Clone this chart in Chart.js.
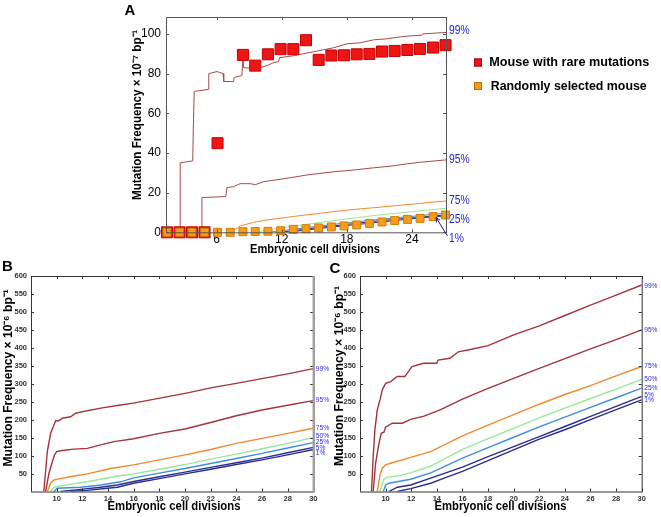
<!DOCTYPE html>
<html><head><meta charset="utf-8">
<script src="https://cdn.jsdelivr.net/npm/chart.js@4"></script>
<style>
html,body{margin:0;padding:0;background:#fff;}
#wrap{position:relative;width:661px;height:517px;overflow:hidden;}
canvas{position:absolute;left:0;top:0;}
</style></head><body>
<div id="wrap">
<canvas id="cA" width="661" height="517"></canvas>
<canvas id="cB" width="661" height="517"></canvas>
<canvas id="cC" width="661" height="517"></canvas>
</div>
<script>
// ---------- Panel A data ----------
const aDivisions = [1.43, 2.59, 3.73, 4.89, 6.09, 7.26, 8.43, 9.56, 10.73, 11.9, 13.07, 14.24, 15.41, 16.58, 17.75, 18.91, 20.08, 21.25, 22.41, 23.58, 24.75, 25.95, 27.1];
const aRare = [0, 0, 0, 0, 44.9, null, 89.4, 84.0, 89.7, 92.3, 92.3, 96.8, 86.9, 89.1, 89.2, 89.7, 89.9, 91.1, 91.4, 91.9, 92.4, 93.1, 94.3];
const aRandom = [0, 0, 0, 0, 0, 0, 0.3, 0.4, 0.5, 0.8, 1.5, 1.8, 2.2, 2.7, 3.2, 3.7, 4.5, 5.2, 5.9, 6.5, 7.0, 7.9, 8.7];
const a99x = [1.34, 2.65, 2.65, 3.8, 3.86, 3.94, 5.24, 5.28, 6.04, 6.6, 6.66, 7.57, 7.62, 8.34, 8.43, 8.49, 9.41, 10.03, 10.64, 11.25, 11.71, 11.8, 13.1, 14.02, 14.94, 15.86, 16.78, 18.02, 19.24, 20.47, 21.7, 22.93, 23.85, 24.9, 25.0, 27.14];
const a99y = [0, 0, 35, 36, 53, 71, 72, 80, 81, 80, 76, 76, 78, 79, 89, 83, 82.5, 83, 84, 85.5, 86, 88, 89, 90, 91, 92, 93, 95, 95.5, 97, 97.5, 98.5, 99, 99.3, 100, 100.7];
const a95x = [1.34, 4.65, 4.65, 6.85, 6.95, 7.57, 8.18, 9.1, 9.57, 10.33, 11.57, 12.8, 14.33, 15.25, 16.78, 18.63, 20.47, 22.3, 23.55, 24.77, 27.14];
const a95y = [0, 0, 17.5, 18, 22.5, 23, 24.5, 24.5, 24, 25.5, 26.5, 27.5, 28.9, 29.5, 30.5, 31.4, 32.5, 33.5, 34.5, 35.3, 36.5];
const a75x = [7.26, 8.18, 9.41, 10.64, 13.1, 15.55, 18.02, 20.47, 22.93, 24.77, 27.14];
const a75y = [0, 3.2, 5, 6.2, 8, 9.6, 11.2, 12.4, 13.6, 14.6, 15.8];
const a50x = [9.41, 11.87, 14.94, 18.02, 21.09, 24.16, 27.14];
const a50y = [0, 2.2, 4.5, 6.8, 8.8, 10.5, 12.1];
const a25x = [10.64, 13.1, 15.55, 18.02, 20.47, 22.93, 24.77, 27.14];
const a25y = [0, 1.5, 3.2, 4.8, 6.2, 7.5, 8.4, 9.7];
const a5x = [11.87, 15.55, 18.02, 20.47, 22.93, 24.77, 27.14];
const a5y = [0, 2.5, 4, 5.5, 6.8, 7.6, 8.8];
const a1x = [12.5, 15.55, 18.02, 20.47, 22.93, 24.77, 27.14];
const a1y = [0, 2.0, 3.4, 4.8, 6.2, 7.2, 8.3];
const aXTicks = [6, 12, 18, 24];
const aYTicks = [0, 20, 40, 60, 80, 100];
const aLabelNames = ['99%', '95%', '75%', '25%', '1%'];
const aLabelY = [101.5, 36.5, 15.8, 6.6, -3.0];
const legendNames = ['Mouse with rare mutations', 'Randomly selected mouse'];

// ---------- Panel B data ----------
const b99x = [9.0, 9.27, 9.53, 9.79, 9.92, 10.18, 10.44, 11.09, 11.48, 12.39, 13.43, 14.99, 15.97, 18.05, 20.1, 22.2, 24.0, 26.1, 28.2, 30];
const b99y = [0, 111, 162, 185, 197, 197, 204, 208, 218, 225, 232, 241, 246, 260, 274, 290, 301, 315, 329, 342];
const b95x = [9.14, 9.4, 9.66, 9.84, 10.0, 10.44, 11.35, 12.39, 13.43, 14.47, 16, 18, 20, 22, 24, 26, 28, 30];
const b95y = [0, 51, 83, 102, 111, 114, 118, 120, 130, 139, 147, 162, 174, 192, 211, 227, 240, 253];
const b75x = [9.27, 9.53, 9.79, 10.18, 11.35, 12.39, 14.2, 16, 18, 20, 22, 24, 26, 28, 30];
const b75y = [0, 23, 32, 35, 43, 49, 64, 74, 88, 102, 117, 134, 148, 162, 176];
const b50x = [9.53, 9.79, 10.18, 12.39, 14.73, 16, 18, 20, 22, 24, 26, 28, 30];
const b50y = [0, 12, 15, 27, 43, 49, 62, 75, 90, 104, 119, 134, 150];
const b25x = [9.79, 10.05, 11.87, 13.43, 14.99, 16, 18, 20, 22, 24, 26, 28, 30];
const b25y = [0, 9, 12, 18, 27, 38, 51, 64, 78, 92, 106, 121, 136];
const b5x = [10.31, 11.87, 13.43, 14.73, 16, 18, 20, 22, 24, 26, 28, 30];
const b5y = [0, 6, 12, 18, 28, 41, 54, 67, 80, 93, 108, 123];
const b1x = [11.09, 12.39, 13.95, 14.73, 16, 18, 20, 22, 24, 26, 28, 30];
const b1y = [0, 3, 9, 12, 23, 36, 49, 62, 75, 88, 102, 117];
const bLabelY = [342, 255, 178, 155, 138, 121, 107];

// ---------- Panel C data ----------
const c99x = [8.9, 9.03, 9.16, 9.35, 9.56, 9.74, 10.0, 10.4, 10.9, 11.5, 12.06, 12.97, 14.0, 14.1, 15.03, 15.68, 16.7, 18, 20, 22, 24, 26, 28, 30];
const c99y = [0, 97, 171, 227, 255, 283, 301, 306, 320, 320, 348, 357, 357, 366, 371, 389, 396, 406, 436, 461, 490, 519, 547, 575];
const c95x = [9.03, 9.22, 9.48, 9.66, 9.87, 10.0, 10.52, 11.3, 11.96, 13.0, 14.3, 16, 18, 20, 22, 24, 26, 28, 30];
const c95y = [0, 79, 134, 162, 165, 179, 190, 190, 201, 210, 228, 257, 287, 315, 343, 370, 397, 423, 450];
const c75x = [9.35, 9.56, 9.74, 10.0, 10.52, 11.96, 13.52, 16, 18, 20, 22, 24, 26, 28, 30];
const c75y = [0, 46, 65, 74, 80, 95, 111, 155, 185, 214, 243, 270, 295, 322, 348];
const c50x = [9.56, 9.82, 10.13, 10.91, 11.96, 13.52, 16, 18, 20, 22, 24, 26, 28, 30];
const c50y = [0, 32, 40, 43, 52, 71, 117, 147, 176, 205, 232, 259, 285, 312];
const c25x = [9.82, 10.0, 10.26, 11.96, 13.52, 16, 18, 20, 22, 24, 26, 28, 30];
const c25y = [0, 18, 23, 34, 52, 93, 122, 151, 180, 207, 234, 261, 288];
const c5x = [10.26, 10.91, 11.96, 13.52, 16, 18, 20, 22, 24, 26, 28, 30];
const c5y = [0, 12, 18, 37, 68, 97, 125, 153, 181, 209, 237, 265];
const c1x = [10.91, 11.96, 13.52, 14.57, 16, 18, 20, 22, 24, 26, 28, 30];
const c1y = [0, 8, 23, 37, 56, 86, 116, 146, 172, 200, 228, 255];
const cLabelY = [573, 450, 348, 313, 287, 269, 255];

const bcXTicks = [10, 12, 14, 16, 18, 20, 22, 24, 26, 28, 30];
const bcYTicks = [50, 100, 150, 200, 250, 300, 350, 400, 450, 500, 550, 600];
const pctNames = ['99%', '95%', '75%', '50%', '25%', '5%', '1%'];
const pctColors = ['#a3343c', '#a3343c', '#f08a2c', '#98e898', '#3c8fdf', '#2c2c90', '#2c2c90'];

// ---------- helpers ----------
const NARROW = "'Liberation Sans Narrow', 'Liberation Sans', Arial, sans-serif";
const SANS = "'Liberation Sans', Arial, sans-serif";
function pts(xs, ys) { return xs.map((x, i) => ({x: x, y: ys[i]})); }
function lineDs(xs, ys, color, w) {
  return {data: pts(xs, ys), showLine: true, borderColor: color, backgroundColor: color,
          borderWidth: w, pointRadius: 0, pointHoverRadius: 0, tension: 0, fill: false};
}
function drawText(ctx, s, x, y, o) {
  ctx.save();
  ctx.font = o.font; ctx.fillStyle = o.color || '#000';
  ctx.textBaseline = 'middle'; ctx.textAlign = o.align || 'center';
  ctx.translate(x, y);
  if (o.rotate) ctx.rotate(o.rotate);
  if (o.width) { const m = ctx.measureText(s).width; ctx.scale(o.width / m, 1); }
  else if (o.sx) ctx.scale(o.sx, 1);
  ctx.fillText(s, 0, 0);
  ctx.restore();
}
function decoPlugin(cfg) {
  return {
    id: 'deco' + cfg.id,
    afterDraw(chart) {
      const ctx = chart.ctx, ca = chart.chartArea, xs = chart.scales.x, ys = chart.scales.y;
      ctx.save();
      ctx.strokeStyle = cfg.boxColor; ctx.lineWidth = 1;
      ctx.beginPath();
      cfg.yTicks.forEach(v => {
        const py = Math.round(ys.getPixelForValue(v)) + 0.5;
        ctx.moveTo(ca.left, py); ctx.lineTo(ca.left + cfg.tl, py);
        ctx.moveTo(ca.right, py); ctx.lineTo(ca.right - cfg.tl, py);
      });
      cfg.xTicks.forEach(v => {
        const px = Math.round(xs.getPixelForValue(v)) + 0.5;
        ctx.moveTo(px, ca.bottom); ctx.lineTo(px, ca.bottom - cfg.tl);
        ctx.moveTo(px, ca.top); ctx.lineTo(px, ca.top + cfg.tl);
      });
      ctx.stroke();
      ctx.beginPath();
      ctx.moveTo(ca.left + 0.5, ca.bottom); ctx.lineTo(ca.left + 0.5, ca.top + 0.5);
      ctx.lineTo(ca.right, ca.top + 0.5);
      ctx.moveTo(ca.left, ca.bottom + 0.5); ctx.lineTo(ca.right, ca.bottom + 0.5);
      ctx.stroke();
      ctx.beginPath();
      ctx.strokeStyle = cfg.rightColor || cfg.boxColor; ctx.lineWidth = cfg.rightWidth || 1;
      ctx.moveTo(ca.right + 0.5, ca.top); ctx.lineTo(ca.right + 0.5, ca.bottom + 1);
      ctx.stroke();
      // percentile labels
      cfg.labels.forEach((s, i) => {
        drawText(ctx, s, ca.right + cfg.labelDx, ys.getPixelForValue(cfg.labelY[i]),
                 {font: cfg.labelFont, color: cfg.labelColor, align: 'left', sx: cfg.labelSx});
      });
      // titles
      drawText(ctx, cfg.yTitle, cfg.yTitlePos[0], cfg.yTitlePos[1],
               {font: cfg.titleFont, rotate: -Math.PI / 2, width: cfg.yTitleW});
      drawText(ctx, 'Embryonic cell divisions', cfg.xTitlePos[0], cfg.xTitlePos[1],
               {font: cfg.titleFont, width: cfg.xTitleW});
      drawText(ctx, cfg.letter, cfg.letterPos[0], cfg.letterPos[1], {font: 'bold 15px ' + SANS});
      if (cfg.extra) cfg.extra(ctx, chart);
      ctx.restore();
    }
  };
}

// ---------- Panel A ----------
new Chart(document.getElementById('cA'), {
  type: 'scatter',
  data: {datasets: [
    {label: legendNames[1], data: pts(aDivisions, aRandom), pointStyle: 'rect', pointRadius: 5.6,
     backgroundColor: '#f69c18', borderColor: '#d27c00', borderWidth: 1, clip: false},
    {label: legendNames[0], data: pts(aDivisions, aRare), pointStyle: 'rect', pointRadius: 7.8,
     backgroundColor: '#ee1515', borderColor: '#c40000', borderWidth: 1, clip: false},
    lineDs(a1x, a1y, pctColors[6], 1),
    lineDs(a5x, a5y, pctColors[5], 1),
    lineDs(a25x, a25y, pctColors[4], 1),
    lineDs(a50x, a50y, pctColors[3], 1),
    lineDs(a75x, a75y, pctColors[2], 1),
    lineDs(a95x, a95y, '#a84a4a', 1),
    lineDs(a99x, a99y, '#a84a4a', 1)
  ]},
  options: {
    responsive: false, animation: false, events: [],
    layout: {padding: {left: 126, right: 215, top: 17, bottom: 264.7}},
    plugins: {legend: {display: false}, tooltip: {enabled: false}},
    scales: {
      x: {type: 'linear', min: 1.34, max: 27.14,
          grid: {display: false, drawTicks: false}, border: {display: false},
          afterBuildTicks: s => { s.ticks = aXTicks.map(v => ({value: v})); },
          ticks: {font: {family: NARROW, size: 12}, color: '#000', padding: 0, maxRotation: 0, autoSkip: false},
          afterFit: s => { s.height = 20; }},
      y: {type: 'linear', min: 0, max: 108.5,
          grid: {display: false, drawTicks: false}, border: {display: false},
          afterBuildTicks: s => { s.ticks = aYTicks.map(v => ({value: v})); },
          ticks: {font: {family: NARROW, size: 12}, color: '#000', padding: 5, autoSkip: false},
          afterFit: s => { s.width = 40; }}
    }
  },
  plugins: [decoPlugin({
    id: 'A', xTicks: aXTicks, yTicks: aYTicks, tl: 3, boxColor: '#555',
    labels: aLabelNames, labelY: aLabelY, labelDx: 3, labelFont: '12px ' + SANS, labelColor: '#2626c8', labelSx: 0.86,
    yTitle: 'Mutation Frequency \u00d7 10\u207b\u2077 bp\u207b\u00b9', yTitlePos: [137, 115], yTitleW: 170,
    xTitlePos: [315, 249], xTitleW: 130, titleFont: 'bold 13px ' + SANS,
    letter: 'A', letterPos: [130, 11],
    extra(ctx) {
      // arrow from "1%" label to the lowest line
      ctx.strokeStyle = '#1c1c9a'; ctx.lineWidth = 1;
      const x0 = 447.5, y0 = 236, x1 = 436, y1 = 217.5;
      const ang = Math.atan2(y1 - y0, x1 - x0);
      ctx.beginPath(); ctx.moveTo(x0, y0); ctx.lineTo(x1, y1);
      ctx.moveTo(x1, y1); ctx.lineTo(x1 - 5 * Math.cos(ang - 0.45), y1 - 5 * Math.sin(ang - 0.45));
      ctx.moveTo(x1, y1); ctx.lineTo(x1 - 5 * Math.cos(ang + 0.45), y1 - 5 * Math.sin(ang + 0.45));
      ctx.stroke();
      // legend
      ctx.fillStyle = '#ee1515'; ctx.strokeStyle = '#b00000';
      ctx.fillRect(474, 58.5, 8, 8); ctx.strokeRect(474.5, 59, 7, 7);
      ctx.fillStyle = '#f69c18'; ctx.strokeStyle = '#c07000';
      ctx.fillRect(474.5, 82.5, 7.5, 7.5); ctx.strokeRect(474.5, 82.5, 7, 7);
      drawText(ctx, legendNames[0], 489.3, 62.5, {font: 'bold 12.5px ' + SANS, align: 'left', width: 160});
      drawText(ctx, legendNames[1], 490.7, 86.5, {font: 'bold 12.5px ' + SANS, align: 'left', width: 156});
    }
  })]
});

// ---------- Panels B and C ----------
function bcChart(id, sets, padLeft, padRight, labelY, opts) {
  const ds = [];
  for (let i = sets.length - 1; i >= 0; i--) ds.push(lineDs(sets[i][0], sets[i][1], pctColors[i], 1.4));
  new Chart(document.getElementById(id), {
    type: 'scatter',
    data: {datasets: ds},
    options: {
      responsive: false, animation: false, events: [],
      layout: {padding: {left: padLeft, right: padRight, top: 276, bottom: 10.5}},
      plugins: {legend: {display: false}, tooltip: {enabled: false}},
      scales: {
        x: {type: 'linear', min: 8, max: 30,
            grid: {display: false, drawTicks: false}, border: {display: false},
            afterBuildTicks: s => { s.ticks = bcXTicks.map(v => ({value: v})); },
            ticks: {font: {family: NARROW, size: 7.5, weight: 'bold'}, color: '#333', padding: 2.5, maxRotation: 0, autoSkip: false},
            afterFit: s => { s.height = 15; }},
        y: {type: 'linear', min: 0, max: 600,
            grid: {display: false, drawTicks: false}, border: {display: false},
            afterBuildTicks: s => { s.ticks = bcYTicks.map(v => ({value: v})); },
            ticks: {font: {family: NARROW, size: 7.5, weight: 'bold'}, color: '#333', padding: 4, autoSkip: false},
            afterFit: s => { s.width = 30; }}
      }
    },
    plugins: [decoPlugin(Object.assign({
      xTicks: bcXTicks, yTicks: bcYTicks, tl: 3, boxColor: '#333',
      labels: pctNames, labelY: labelY, labelDx: 2.5, labelFont: '7px ' + SANS, labelColor: '#2b2be8', labelSx: 0.95,
      yTitle: 'Mutation Frequency \u00d7 10\u207b\u2076 bp\u207b\u00b9', titleFont: 'bold 13px ' + SANS
    }, opts))]
  });
}
bcChart('cB', [[b99x, b99y], [b95x, b95y], [b75x, b75y], [b50x, b50y], [b25x, b25y], [b5x, b5y], [b1x, b1y]],
  1, 347.7, bLabelY,
  {id: 'B', yTitlePos: [8.5, 378], yTitleW: 177, xTitlePos: [174, 506], xTitleW: 133,
   letter: 'B', letterPos: [7.5, 267], rightColor: '#a0a0a0', rightWidth: 2.5});
bcChart('cC', [[c99x, c99y], [c95x, c95y], [c75x, c75y], [c50x, c50y], [c25x, c25y], [c5x, c5y], [c1x, c1y]],
  330, 19.3, cLabelY,
  {id: 'C', yTitlePos: [339, 376], yTitleW: 180, xTitlePos: [500.5, 506], xTitleW: 132,
   letter: 'C', letterPos: [335, 269]});
</script>
</body></html>
